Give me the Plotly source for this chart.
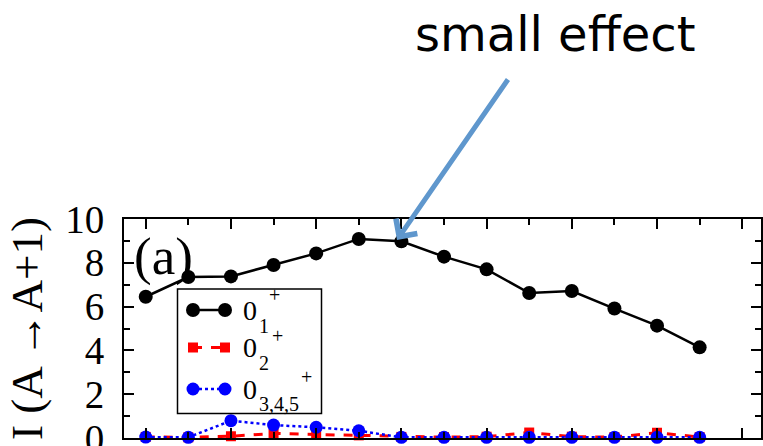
import plotly.graph_objects as go

# Transition strength I(A -> A+1) for the three 0+ channels along the chain
chain_index = list(range(14))
i_01 = [6.45, 7.35, 7.38, 7.9, 8.43, 9.09, 8.98, 8.28, 7.70, 6.62, 6.71, 5.91, 5.13, 4.14]
i_02 = [0.05, 0.03, 0.08, 0.21, 0.16, 0.12, 0.05, 0.04, 0.06, 0.25, 0.06, 0.04, 0.24, 0.04]
i_0345 = [0.04, 0.03, 0.79, 0.59, 0.49, 0.33, 0.03, 0.03, 0.03, 0.03, 0.03, 0.03, 0.03, 0.03]

y_ticks = [0, 2, 4, 6, 8, 10]
y_ticktext = ["0", "2", "4", "6", "8", "10"]

W, H = 763, 446
L, R, T, B = 124, 2, 219, 8
PW, PH = W - L - R, H - T - B

SERIF = "Liberation Serif, Times New Roman, serif"


def px(x):
    return (x - L) / PW


def py(y):
    return (H - B - y) / PH


fig = go.Figure()

fig.add_trace(go.Scatter(
    x=chain_index, y=i_01, mode="lines+markers", cliponaxis=False,
    line=dict(color="black", width=2.5),
    marker=dict(color="black", size=14, symbol="circle"),
    showlegend=False,
))
fig.add_trace(go.Scatter(
    x=chain_index, y=i_02, mode="lines+markers", cliponaxis=False,
    line=dict(color="#ff0000", width=3, dash="dash"),
    marker=dict(color="#ff0000", size=10, symbol="square"),
    showlegend=False,
))
fig.add_trace(go.Scatter(
    x=chain_index, y=i_0345, mode="lines+markers", cliponaxis=False,
    line=dict(color="#0000ff", width=2.5, dash="dot"),
    marker=dict(color="#0000ff", size=13, symbol="circle"),
    showlegend=False,
))

shapes = []
annotations = []

# hand-drawn legend box
shapes.append(dict(type="rect", xref="paper", yref="paper",
                   x0=px(177.5), x1=px(321.5), y0=py(413.5), y1=py(289),
                   line=dict(color="black", width=1.5), fillcolor="white", layer="above"))

# (row centre, colour, line style, symbol, size, subscript, sub centre y, plus x, plus y)
legend_rows = [
    (310.0, "black", dict(width=2.5), "circle", 14, "1", 326, 274, 295),
    (347.5, "#ff0000", dict(width=3, dash="dash"), "rect", 10, "2", 363, 277, 336),
    (389.0, "#0000ff", dict(width=2.5, dash="dot"), "circle", 13, "3,4,5", 404, 306, 377),
]
for yrow, col, ls, sym, sz, sub, sub_y, plus_x, plus_y in legend_rows:
    shapes.append(dict(type="line", xref="paper", yref="paper",
                       x0=px(193), x1=px(225), y0=py(yrow), y1=py(yrow),
                       line=dict(color=col, **ls), layer="above"))
    for xm in (193, 225):
        shapes.append(dict(type=sym, xref="paper", yref="paper",
                           xsizemode="pixel", ysizemode="pixel",
                           xanchor=px(xm), yanchor=py(yrow),
                           x0=-sz / 2, x1=sz / 2, y0=-sz / 2, y1=sz / 2,
                           fillcolor=col, line=dict(color=col, width=0), layer="above"))
    annotations.append(dict(text="0", xref="paper", yref="paper",
                            x=px(241), y=py(yrow), xanchor="left", yanchor="middle",
                            showarrow=False, font=dict(family=SERIF, size=28, color="black")))
    annotations.append(dict(text=sub, xref="paper", yref="paper",
                            x=px(257), y=py(sub_y), xanchor="left", yanchor="middle",
                            showarrow=False, font=dict(family=SERIF, size=20, color="black")))
    annotations.append(dict(text="+", xref="paper", yref="paper",
                            x=px(plus_x), y=py(plus_y), xanchor="center", yanchor="middle",
                            showarrow=False, font=dict(family=SERIF, size=20, color="black")))

# panel label
annotations.append(dict(text="(a)", xref="paper", yref="paper",
                        x=px(132), y=py(256), xanchor="left", yanchor="middle",
                        showarrow=False, font=dict(family=SERIF, size=53, color="black")))

# call-out arrow and note
annotations.append(dict(text="", xref="paper", yref="paper",
                        x=px(397), y=py(240), axref="pixel", ayref="pixel",
                        ax=112, ay=-162, showarrow=True, arrowhead=4, arrowsize=1,
                        arrowwidth=5, arrowcolor="#5f97cd"))
annotations.append(dict(text="small effect", xref="paper", yref="paper",
                        x=px(555), y=py(34), xanchor="center", yanchor="middle",
                        showarrow=False,
                        font=dict(family="Comic Sans MS, DejaVu Sans, sans-serif", size=48,
                                  color="black")))

fig.update_layout(
    width=W, height=H,
    margin=dict(l=L, r=R, t=T, b=B, autoexpand=False),
    paper_bgcolor="white", plot_bgcolor="white",
    shapes=shapes, annotations=annotations,
    showlegend=False,
)

fig.update_xaxes(
    range=[-0.51, 14.44], showgrid=False, zeroline=False, automargin=False,
    showline=True, linecolor="black", linewidth=2, mirror="allticks",
    ticks="inside", ticklen=10, tickwidth=1.5, tickcolor="black",
    tick0=0, dtick=2, showticklabels=False,
    minor=dict(ticks="inside", ticklen=6, tickwidth=1.5, tickcolor="black", dtick=1, tick0=0),
)
fig.update_yaxes(
    range=[0, 10], showgrid=False, zeroline=False, automargin=False,
    showline=True, linecolor="black", linewidth=2, mirror="allticks",
    ticks="inside", ticklen=10, tickwidth=1.5, tickcolor="black",
    tickvals=y_ticks, ticktext=y_ticktext,
    tickfont=dict(family=SERIF, size=39, color="black"),
    ticklabelstandoff=10, ticklabeloverflow="allow",
    minor=dict(ticks="inside", ticklen=6, tickwidth=1.5, tickcolor="black", dtick=1, tick0=0),
    title=dict(text="I (A →A+1)", font=dict(family=SERIF, size=45, color="black"), standoff=8),
)

fig.write_html("out.html")
